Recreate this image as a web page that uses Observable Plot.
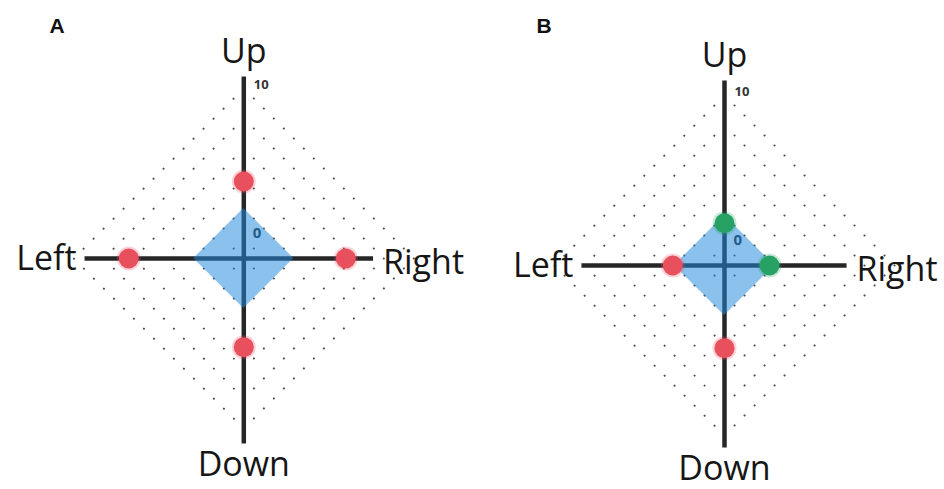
<!DOCTYPE html>
<html><head><meta charset="utf-8">
<script src="https://cdn.jsdelivr.net/npm/d3@7"></script>
<script src="https://cdn.jsdelivr.net/npm/@observablehq/plot@0.6"></script>
<style>
body{margin:0;background:#fff;}
#wrap{display:flex;width:944px;height:489px;overflow:hidden;}
</style></head><body><div id="wrap"></div>
<script>
// ---- data ----
const directions = ["Up", "Right", "Down", "Left"];
const panelNames = ["A", "B"];
const valuesA = [2.25, 4.33, 3.22, 5.42];
const valuesB = [-0.65, -0.42, 2.72, 0.14];
const axisReachA = [11.0, 6.6, 11.25, 9.1];
const axisReachB = [11.25, 6.0, 11.0, 7.75];
const ringLevels = [-2.5, 0, 2.5, 5, 7.5, 10];
const zeroLevel = 0;
const maxTick = 10;
const groups = ["below zero", "above zero"];
const groupColors = ["#27a264", "#e8505e"];

// ---- layout ----
const ORIGIN = -4.17;   // value at the centre of each chart
const PX = 12;          // pixels per unit
const W = 472, H = 489;
const dirVec = {Up: [0, 1], Right: [1, 0], Down: [0, -1], Left: [-1, 0]};
const r = v => v - ORIGIN;

function panel(name, values, reach, cx, cy, letterX) {
  const pts = directions.map((d, i) => ({
    dir: d, value: values[i],
    x: dirVec[d][0] * r(values[i]), y: dirVec[d][1] * r(values[i]),
    group: values[i] < 0 ? groups[0] : groups[1]
  }));
  const axes = directions.map((d, i) => ({
    dir: d, x2: dirVec[d][0] * r(reach[i]), y2: dirVec[d][1] * r(reach[i])
  }));
  const rings = ringLevels.flatMap(lv =>
    [...directions, directions[0]].map(d => ({level: lv, x: dirVec[d][0] * r(lv), y: dirVec[d][1] * r(lv)})));
  const zr = r(zeroLevel);
  const zeroArea = [-zr, 0, zr].map(x => ({x, y1: -(zr - Math.abs(x)), y2: zr - Math.abs(x)}));
  const lab = {fontSize: 34, fill: "#161616", lineAnchor: "bottom", text: "dir", x: "x2", y: "y2"};
  return Plot.plot({
    width: W, height: H, margin: 0,
    x: {type: "linear", domain: [-cx / PX, (W - cx) / PX], range: [0, W], axis: null},
    y: {type: "linear", domain: [-(H - cy) / PX, cy / PX], range: [H, 0], axis: null},
    color: {domain: groups, range: groupColors},
    style: {fontFamily: "'Open Sans', Lato, sans-serif", background: "#fff", overflow: "visible"},
    marks: [
      Plot.line(rings, {x: "x", y: "y", z: "level", stroke: "#4d4d4d", strokeWidth: 2,
        strokeDasharray: "0.1 14.04", strokeLinecap: "round", curve: "linear"}),
      Plot.link(axes, {x1: d => 0, y1: d => 0, x2: "x2", y2: "y2", stroke: "#262626", strokeWidth: 4.5}),
      Plot.text([zeroLevel], {x: d => 0, y: d => r(d), text: d => String(d), textAnchor: "start",
        lineAnchor: "bottom", dx: 9, dy: 30, fontWeight: "bold", fontSize: 15, fill: "#2a2a2a"}),
      Plot.areaY(zeroArea, {x: "x", y1: "y1", y2: "y2", fill: "#1f88dc", fillOpacity: 0.52, curve: "linear"}),
      Plot.text([maxTick], {x: d => 0, y: d => r(d), text: d => String(d), textAnchor: "start",
        lineAnchor: "bottom", dx: 10, dy: 1, fontWeight: "bold", fontSize: 13, fill: "#333"}),
      Plot.dot(pts, {x: "x", y: "y", r: 12, fill: "group", fillOpacity: 0.25}),
      Plot.dot(pts, {x: "x", y: "y", r: 10, fill: "group"}),
      Plot.text(axes.filter(d => d.dir === "Up"), {...lab, dy: -13}),
      Plot.text(axes.filter(d => d.dir === "Down"), {...lab, dy: 32}),
      Plot.text(axes.filter(d => d.dir === "Left"), {...lab, textAnchor: "end", dx: -8, dy: 11}),
      Plot.text(axes.filter(d => d.dir === "Right"), {...lab, textAnchor: "start", dx: 10, dy: 15}),
      Plot.text([name], {frameAnchor: "top-left", text: d => d, lineAnchor: "bottom", dx: letterX, dy: 32,
        fontWeight: "bold", fontSize: 21, fontFamily: "'Liberation Sans', Arial, sans-serif", fill: "#111"})
    ]
  });
}

const wrap = document.getElementById("wrap");
wrap.appendChild(panel(panelNames[0], valuesA, axisReachA, 243.3, 258, 49));
wrap.appendChild(panel(panelNames[1], valuesB, axisReachB, 252, 265, 64));
</script></body></html>
